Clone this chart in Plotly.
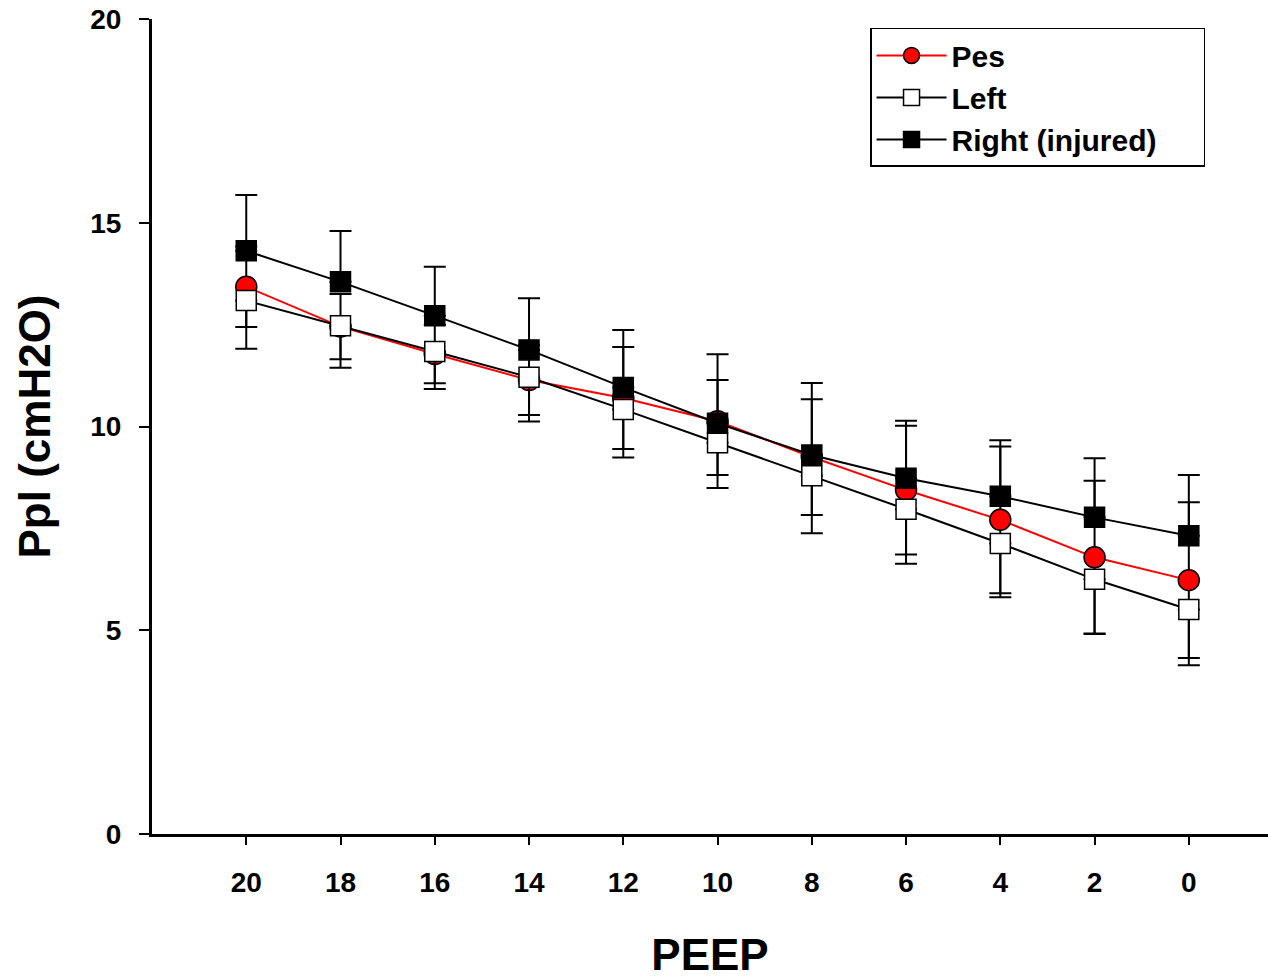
import plotly.graph_objects as go

peep = [20, 18, 16, 14, 12, 10, 8, 6, 4, 2, 0]

pes_mean = [13.43, 12.45, 11.78, 11.14, 10.70, 10.13, 9.25, 8.44, 7.71, 6.79, 6.23]
pes_sd = [0.99, 0.80, 0.72, 0.86, 1.25, 1.64, 1.42, 1.58, 1.80, 1.88, 1.91]

left_mean = [13.09, 12.47, 11.84, 11.21, 10.42, 9.60, 8.79, 7.97, 7.13, 6.25, 5.51]
left_sd = [1.18, 1.03, 0.92, 1.09, 1.18, 0.79, 1.41, 1.34, 1.32, 1.33, 1.37]

right_mean = [14.31, 13.55, 12.72, 11.88, 10.96, 10.08, 9.30, 8.73, 8.29, 7.77, 7.32]
right_sd = [1.37, 1.25, 1.20, 1.27, 1.41, 1.06, 1.77, 1.41, 1.37, 1.45, 1.49]

y_ticks = [0, 5, 10, 15, 20]

zeros = [0] * len(peep)
FONT = "Liberation Sans, Arial, sans-serif"
PAD = "\u00a0\u00a0\u00a0\u00a0\u00a0"

fig = go.Figure()

fig.add_trace(go.Scatter(
    x=peep, y=pes_mean, name="<b>Pes</b>", mode="lines+markers",
    line=dict(color="#ff0000", width=2),
    marker=dict(symbol="circle", size=21, color="#ff0000", line=dict(color="black", width=1.5)),
    error_y=dict(type="data", array=pes_sd, arrayminus=pes_sd, color="black", thickness=2, width=11),
))
fig.add_trace(go.Scatter(
    x=peep, y=left_mean, name="<b>Left</b>", mode="lines+markers",
    line=dict(color="black", width=2),
    marker=dict(symbol="square", size=20, color="white", line=dict(color="black", width=1.5)),
    error_y=dict(type="data", array=zeros, arrayminus=left_sd, color="black", thickness=2, width=11),
))
fig.add_trace(go.Scatter(
    x=peep, y=right_mean, name="<b>Right (injured)</b>" + PAD, mode="lines+markers",
    line=dict(color="black", width=2),
    marker=dict(symbol="square", size=20, color="black", line=dict(color="black", width=1.5)),
    error_y=dict(type="data", array=right_sd, arrayminus=zeros, color="black", thickness=2, width=11),
))

fig.update_layout(
    width=1268, height=979,
    margin=dict(l=152, r=0, t=19, b=145),
    paper_bgcolor="white", plot_bgcolor="white",
    font=dict(family=FONT, color="black"),
    showlegend=True,
    legend=dict(
        x=0.6434, y=0.989, xanchor="left", yanchor="top",
        bgcolor="white", bordercolor="black", borderwidth=1.5,
        font=dict(family=FONT, size=30, color="black"),
        itemwidth=70, tracegroupgap=0,
    ),
)

fig.update_xaxes(
    range=[22, -1.68],
    tickvals=peep, ticktext=[f"<b>{v}</b>" for v in peep],
    tickfont=dict(family=FONT, size=28, color="black"),
    showline=True, linecolor="black", linewidth=3,
    ticks="outside", ticklen=8, tickwidth=1.5, tickcolor="black",
    ticklabelstandoff=13,
    ticklabeloverflow="allow", automargin=False,
    showgrid=False, zeroline=False,
    title=dict(text="<b>PEEP</b>", font=dict(family=FONT, size=44, color="black"), standoff=44),
)
fig.update_yaxes(
    range=[0, 20],
    tickvals=y_ticks, ticktext=[f"<b>{v}</b>" for v in y_ticks],
    tickfont=dict(family=FONT, size=28, color="black"),
    showline=True, linecolor="black", linewidth=3,
    ticks="outside", ticklen=10, tickwidth=2, tickcolor="black",
    ticklabelstandoff=12,
    ticklabeloverflow="allow", automargin=False,
    showgrid=False, zeroline=False,
    title=dict(text="<b>Ppl (cmH2O)</b>", font=dict(family=FONT, size=44, color="black"), standoff=26),
)

fig.write_html(
    "out.html",
    config={"displayModeBar": False},
    post_script="document.body.style.margin='0';",
)
